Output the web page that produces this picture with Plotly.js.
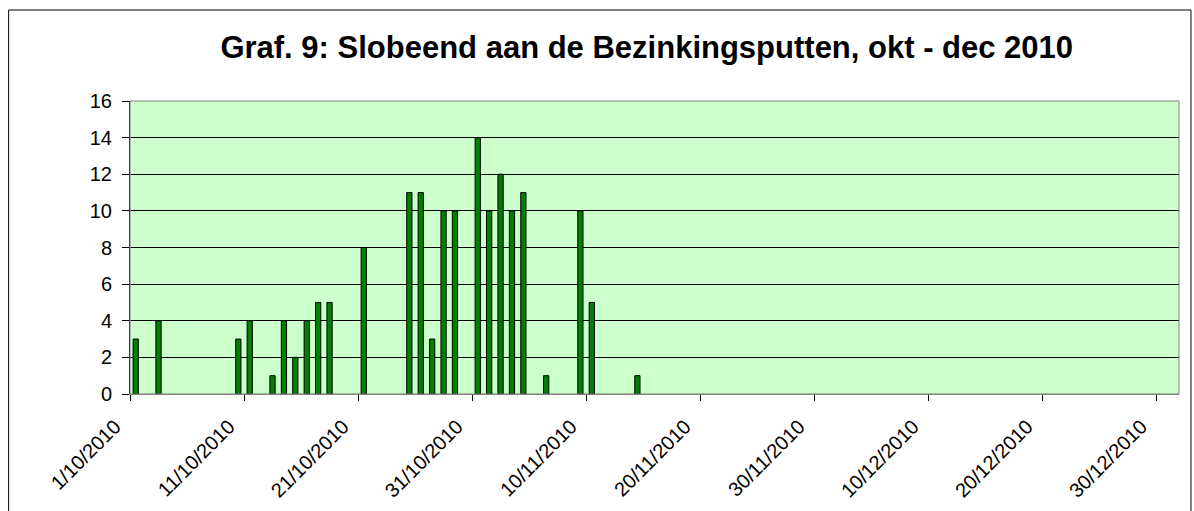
<!DOCTYPE html>
<html>
<head>
<meta charset="utf-8">
<script src="https://cdn.plot.ly/plotly-3.0.1.min.js"></script>
<style>
html,body{margin:0;padding:0;background:#fff;}
#chart{width:1194px;height:511px;}
</style>
</head>
<body>
<div id="chart"></div>
<script>
// Data
const dates = ['2010-10-01','2010-10-03','2010-10-10','2010-10-11','2010-10-13','2010-10-14','2010-10-15','2010-10-16','2010-10-17','2010-10-18','2010-10-21','2010-10-25','2010-10-26','2010-10-27','2010-10-28','2010-10-29','2010-10-31','2010-11-01','2010-11-02','2010-11-03','2010-11-04','2010-11-06','2010-11-09','2010-11-10','2010-11-14'];
const counts = [3,4,3,4,1,4,2,4,5,5,8,11,11,3,10,10,14,10,12,10,11,1,10,5,1];
const tickDates = ['2010-10-01','2010-10-11','2010-10-21','2010-10-31','2010-11-10','2010-11-20','2010-11-30','2010-12-10','2010-12-20','2010-12-30'];
const tickLabels = ['1/10/2010','11/10/2010','21/10/2010','31/10/2010','10/11/2010','20/11/2010','30/11/2010','10/12/2010','20/12/2010','30/12/2010'];
const titleText = 'Graf. 9: Slobeend aan de Bezinkingsputten, okt - dec 2010';

// Bars sit in the middle of each day on the date axis
const xCentered = dates.map(d => d + ' 12:00');

const trace = {
  type: 'bar',
  x: xCentered,
  y: counts,
  width: 0.46 * 86400000,
  marker: {color: '#008000', line: {color: '#000000', width: 1}},
  hoverinfo: 'x+y'
};

const layout = {
  width: 1194,
  height: 511,
  margin: {l: 130, r: 14.5, t: 101, b: 117, pad: 0},
  paper_bgcolor: '#ffffff',
  plot_bgcolor: '#CCFFCC',
  showlegend: false,
  font: {family: 'Liberation Sans, Arial, sans-serif', color: '#000000'},
  title: {
    text: '<b>' + titleText + '</b>',
    font: {family: 'Liberation Sans, Arial, sans-serif', size: 31, color: '#000000'},
    x: 0.4926, xanchor: 'center', xref: 'paper',
    y: 0.908, yanchor: 'middle'
  },
  xaxis: {
    type: 'date',
    range: ['2010-10-01', '2011-01-01'],
    tickvals: tickDates,
    ticktext: tickLabels,
    tickangle: -45,
    tickfont: {size: 20, color: '#000000'},
    ticks: 'outside',
    ticklen: 6,
    tickcolor: '#000000',
    ticklabelstandoff: 6,
    ticklabelshift: -15,
    showgrid: false,
    zeroline: false,
    showline: true,
    linecolor: '#808080',
    linewidth: 1,
    mirror: false,
    fixedrange: true
  },
  yaxis: {
    range: [0, 16],
    dtick: 2,
    tick0: 0,
    tickfont: {size: 20, color: '#000000'},
    ticks: 'outside',
    ticklen: 7,
    tickcolor: '#000000',
    ticklabelstandoff: 6,
    showgrid: true,
    gridcolor: '#000000',
    gridwidth: 1,
    zeroline: false,
    showline: true,
    linecolor: '#000000',
    linewidth: 1,
    fixedrange: true
  },
  shapes: [
    {type: 'rect', xref: 'paper', yref: 'paper', x0: 0, x1: 1, y0: 0, y1: 1,
     line: {color: '#808080', width: 1}, fillcolor: 'rgba(0,0,0,0)', layer: 'above'},
    {type: 'rect', xref: 'paper', yref: 'paper', x0: -0.1157, x1: 1.0114, y0: -0.45, y1: 1.3106,
     line: {color: '#000000', width: 1}, fillcolor: 'rgba(0,0,0,0)', layer: 'below'}
  ],
  bargap: 0
};

Plotly.newPlot('chart', [trace], layout, {displayModeBar: false, staticPlot: true});
</script>
</body>
</html>
